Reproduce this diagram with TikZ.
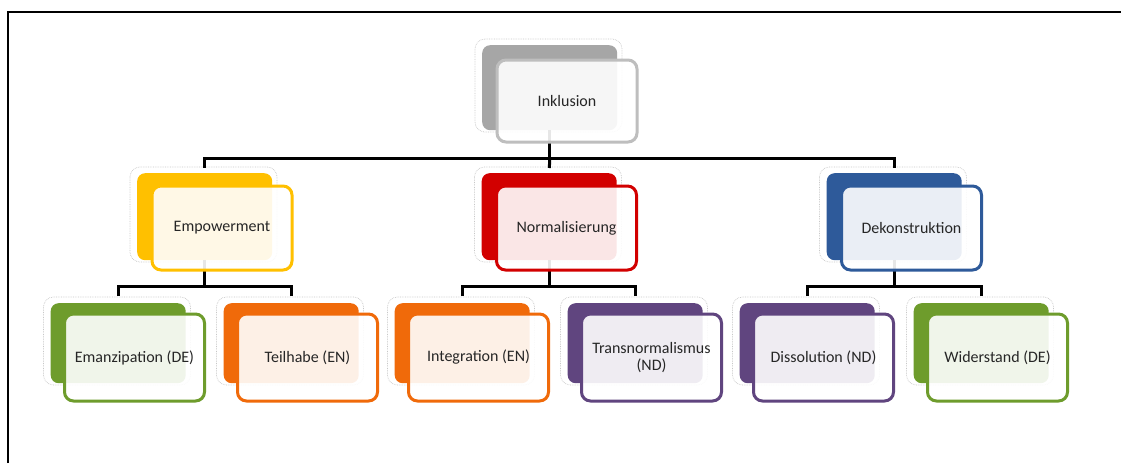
\documentclass[tikz,border=0pt]{standalone}
\usepackage{fontspec}
\setmainfont{Carlito}
\definecolor{cgray}{HTML}{A6A6A6}
\definecolor{cgrayb}{HTML}{BEBEBE}
\definecolor{cyellow}{HTML}{FFC000}
\definecolor{cred}{HTML}{D20000}
\definecolor{cblue}{HTML}{2E5A9A}
\definecolor{cgreen}{HTML}{6E9C2C}
\definecolor{corange}{HTML}{F06A0A}
\definecolor{cpurple}{HTML}{60457F}
\tikzset{
  backbox/.style={rounded corners=8pt, fill=#1, draw=none, inner sep=0pt, minimum width=135pt},
  frontbox/.style={rounded corners=9pt, draw=#1, line width=3pt, fill=white, fill opacity=0.9, inner sep=0pt, minimum width=140pt},
  lbl/.style={text=black!85, font=\fontsize{16}{17}\selectfont, align=center, inner sep=0pt},
  conn/.style={line width=3pt, black},
  halo/.style={draw=black!22, densely dotted, rounded corners=10pt, line width=0.7pt},
}
\newcommand\orgback[5]{%
  \draw[halo] (#2-7,#3-6) rectangle (#2+140,#3+#4+2);
  \node[backbox=#5, minimum height=#4pt, anchor=north west] (b#1) at (#2,#3) {};
}
\newcommand\orgfront[6]{%
  \node[frontbox=#5, minimum height=#4pt-3pt, anchor=north west] (f#1) at (#2+1.5,#3+1.5) {};
  \node[lbl] (t#1) at (f#1.center) {#6};
}
\begin{document}
\begin{tikzpicture}[x=1pt,y=-1pt]
\useasboundingbox (0,0) rectangle (1121,463);
\fill[white] (0,0) rectangle (1121,463);
\draw[line width=1.6pt] (8,463) -- (8,12) -- (1121,12);
% back shapes
\orgback{1}{482}{45}{85}{cgray}
\orgback{2}{137}{173}{87}{cyellow}
\orgback{3}{481.5}{173}{87}{cred}
\orgback{4}{826.5}{173}{87}{cblue}
\orgback{5}{50.5}{303}{80}{cgreen}
\orgback{6}{223.5}{303}{80}{corange}
\orgback{7}{394.5}{303}{80}{corange}
\orgback{8}{567.5}{303}{80}{cpurple}
\orgback{9}{739.5}{303}{80}{cpurple}
\orgback{10}{913.5}{303}{80}{cgreen}
% connectors
\draw[conn] (b1.south) -- ([yshift=-28pt]b1.south) coordinate (j1);
\draw[conn, shorten >=5pt] (j1) -| (b2.north);
\draw[conn, shorten >=5pt] (j1) -| (b4.north);
\draw[conn, shorten >=5pt] (j1) -- (b3.north);
\draw[conn] (b2.south) -- ([yshift=-26pt]b2.south) coordinate (j2);
\draw[conn, shorten >=7pt] (j2) -| (b5.north);
\draw[conn, shorten >=7pt] (j2) -| (b6.north);
\draw[conn] (b3.south) -- ([yshift=-26pt]b3.south) coordinate (j3);
\draw[conn, shorten >=7pt] (j3) -| (b7.north);
\draw[conn, shorten >=7pt] (j3) -| (b8.north);
\draw[conn] (b4.south) -- ([yshift=-26pt]b4.south) coordinate (j4);
\draw[conn, shorten >=7pt] (j4) -| (b9.north);
\draw[conn, shorten >=7pt] (j4) -| (b10.north);
% front shapes
\orgfront{1}{494}{57}{85}{cgrayb}{Inklusion}
\orgfront{2}{149}{183}{87}{cyellow}{Empowerment}
\orgfront{3}{493.5}{183}{87}{cred}{Normalisierung}
\orgfront{4}{838.5}{183}{87}{cblue}{Dekonstruktion}
\orgfront{5}{61.5}{311}{90}{cgreen}{Emanzipation (DE)}
\orgfront{6}{234.5}{311}{90}{corange}{Teilhabe (EN)}
\orgfront{7}{405.5}{311}{90}{corange}{Integration (EN)}
\orgfront{8}{578.5}{311}{90}{cpurple}{Transnormalismus\\(ND)}
\orgfront{9}{750.5}{311}{90}{cpurple}{Dissolution (ND)}
\orgfront{10}{924.5}{311}{90}{cgreen}{Widerstand (DE)}
\end{tikzpicture}
\end{document}
